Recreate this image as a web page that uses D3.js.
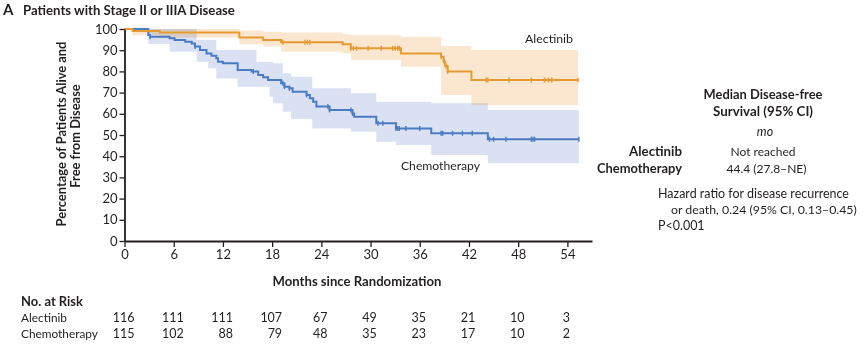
<!DOCTYPE html>
<html>
<head>
<meta charset="utf-8">
<script src="https://cdnjs.cloudflare.com/ajax/libs/d3/7.8.5/d3.min.js"></script>
<style>
  body { margin: 0; background: #fff; }
  svg { font-family: Lato, "Open Sans", sans-serif; }
</style>
</head>
<body>
<div id="km"></div>
<script>
// Kaplan-Meier steps (months, % alive and disease-free)
var alecTimes = [0, 1.0, 4.3, 14.0, 16.9, 19.1, 26.6, 27.6, 33.7, 38.6, 38.9, 39.1, 39.4, 42.3, 55.3]
var alecSurv  = [100, 99.0, 98.4, 96.0, 94.8, 93.8, 92.8, 90.9, 88.5, 86.9, 84.6, 82.5, 80.0, 75.9, 75.9]
var alecCensor = [19.3, 22.0, 22.3, 22.6, 27.6, 27.9, 28.3, 29.7, 31.3, 32.7, 33.0, 33.3, 33.5,
  38.6, 39.0, 39.2, 39.4, 44.1, 44.3, 46.9, 49.6, 51.2, 51.7, 52.1, 55.3]

var chemoTimes = [0, 2.9, 3.1, 5.5, 6.1, 7.4, 8.2, 8.6, 9.2, 10.0, 10.6, 11.2, 11.4, 12.0, 13.8, 15.5,
  16.3, 16.9, 17.5, 19.1, 19.5, 20.1, 20.5, 22.2, 22.6, 23.0, 23.4, 25.0, 27.8, 28.0, 30.7, 33.1,
  37.4, 44.3, 55.4]
var chemoSurv  = [100, 97.2, 96.4, 95.6, 94.8, 94.0, 93.2, 91.7, 90.1, 88.5, 87.4, 86.2, 84.6, 83.8, 80.7, 79.9,
  78.3, 77.2, 75.9, 74.4, 72.8, 72.0, 70.4, 68.9, 67.3, 65.7, 63.4, 61.8, 60.2, 58.6, 55.5, 53.1,
  50.8, 48.0, 48.0]
var chemoCensor = [3.1, 8.6, 15.7, 19.3, 19.5, 20.1, 22.2, 24.8, 25.0, 27.6, 27.8, 30.9, 31.5, 33.1, 33.3,
  33.5, 34.3, 36.0, 38.6, 38.8, 40.0, 41.2, 42.4, 44.5, 45.0, 46.5, 49.6, 49.8, 50.0, 55.4]

// 95% confidence bands (step functions)
var alecBandTimes = [0, 1.0, 4.3, 14.0, 16.9, 19.1, 26.6, 27.6, 33.7, 38.6, 42.3, 55.3]
var alecLower     = [100, 97.0, 96.0, 92.8, 91.7, 89.3, 88.5, 85.4, 82.2, 68.9, 64.2, 64.2]
var alecUpper     = [100, 100, 100, 99.3, 98.7, 98.3, 97.5, 97.0, 96.4, 92.0, 90.1, 90.1]

var chemoBandTimes = [0, 2.9, 5.5, 8.8, 10.2, 11.2, 13.8, 16.1, 17.7, 18.1, 19.3, 20.3, 22.9, 27.6, 30.7, 33.1, 37.4, 44.3, 55.4]
var chemoLower     = [100, 92.9, 89.3, 84.6, 81.5, 76.7, 72.8, 72.8, 68.1, 65.0, 61.0, 57.5, 53.1, 51.5, 46.8, 45.3, 40.6, 36.7, 36.7]
var chemoUpper     = [100, 100, 100, 94.8, 94.8, 90.1, 90.1, 84.6, 84.6, 83.8, 79.1, 77.5, 72.0, 69.7, 65.7, 65.7, 65.0, 61.8, 61.8]

var xTicks = [0, 6, 12, 18, 24, 30, 36, 42, 48, 54]
var yTicks = [0, 10, 20, 30, 40, 50, 60, 70, 80, 90, 100]

var riskGroups = ['Alectinib', 'Chemotherapy']
var alecRisk  = [116, 111, 111, 107, 67, 49, 35, 21, 10, 3]
var chemoRisk = [115, 102, 88, 79, 48, 35, 23, 17, 10, 2]

var orange = '#e69b30', orangeBand = '#fbe7cf'
var blue = '#4b7bc3', blueBand = '#d9e1f3'
var ink = '#231f20'

var W = 864, H = 349

var svg = d3.select('#km').append('svg')
  .attr('width', W)
  .attr('height', H)

var x = d3.scaleLinear().domain([0, 57]).range([124.5, 592])
var y = d3.scaleLinear().domain([0, 100]).range([241, 29])

function zip(ts, vs) { return ts.map(function(t, i) { return [t, vs[i]] }) }
function zipBand(ts, lo, hi) { return ts.map(function(t, i) { return {t: t, lo: lo[i], hi: hi[i]} }) }
function stepAt(ts, vs, t) {
  var v = vs[0]
  for (var i = 0; i < ts.length; i++) { if (ts[i] <= t) v = vs[i] }
  return v
}
// scale a label's font so it takes the same width as in the printed figure
function fit(t, w) {
  var fs = parseFloat(t.style('font-size'))
  var len = t.node().getComputedTextLength()
  if (len > 0) t.style('font-size', (fs * w / len).toFixed(2) + 'px')
  return t
}

var band = d3.area()
  .curve(d3.curveStepAfter)
  .x(function(d) { return x(d.t) })
  .y0(function(d) { return y(d.lo) })
  .y1(function(d) { return y(d.hi) })

var line = d3.line()
  .curve(d3.curveStepAfter)
  .x(function(d) { return x(d[0]) })
  .y(function(d) { return y(d[1]) })

var plot = svg.append('g')

plot.append('path')
  .attr('d', band(zipBand(chemoBandTimes, chemoLower, chemoUpper)))
  .style('fill', blueBand)
  .style('mix-blend-mode', 'multiply')

plot.append('path')
  .attr('d', band(zipBand(alecBandTimes, alecLower, alecUpper)))
  .style('fill', orangeBand)
  .style('mix-blend-mode', 'multiply')

var series = [
  {times: chemoTimes, surv: chemoSurv, censor: chemoCensor, color: blue},
  {times: alecTimes, surv: alecSurv, censor: alecCensor, color: orange}
]

series.forEach(function(s) {
  plot.append('path')
    .attr('d', line(zip(s.times, s.surv)))
    .style('fill', 'none')
    .style('stroke', s.color)
    .style('stroke-width', 2)

  plot.selectAll(null)
    .data(s.censor)
    .enter().append('line')
    .attr('x1', function(d) { return x(d) })
    .attr('x2', function(d) { return x(d) })
    .attr('y1', function(d) { return y(stepAt(s.times, s.surv, d)) - 2.5 })
    .attr('y2', function(d) { return y(stepAt(s.times, s.surv, d)) + 2.5 })
    .style('stroke', s.color)
    .style('stroke-width', 1.4)
})

// axes
var xAxis = svg.append('g')
  .attr('transform', 'translate(0,' + y(0) + ')')
  .call(d3.axisBottom(x).tickValues(xTicks).tickSize(6).tickSizeOuter(0).tickPadding(3))
var yAxis = svg.append('g')
  .attr('transform', 'translate(' + x(0) + ',0)')
  .call(d3.axisLeft(y).tickValues(yTicks).tickSize(5).tickSizeOuter(0).tickPadding(2))

;[xAxis, yAxis].forEach(function(a) {
  a.select('.domain').style('stroke', ink).style('stroke-width', 1.8)
  a.selectAll('.tick line').style('stroke', ink).style('stroke-width', 1.3)
  a.selectAll('.tick text').style('font-size', '13px').style('fill', ink)
    .style('font-family', 'Lato, sans-serif')
})

function label(px, py, txt, size, weight, anchor) {
  return svg.append('text')
    .attr('x', px).attr('y', py)
    .attr('text-anchor', anchor || 'start')
    .style('font-size', size + 'px')
    .style('font-weight', weight || 'normal')
    .style('fill', ink)
    .text(txt)
}

// title
label(3, 15, 'A', 15, 'bold')
fit(label(23, 15, 'Patients with Stage II or IIIA Disease', 13, 'bold'), 212)

// axis titles
fit(label(357, 286, 'Months since Randomization', 13, 'bold', 'middle'), 169)

var yl1 = label(0, 0, 'Percentage of Patients Alive and', 12.8, 'bold', 'middle')
  .attr('transform', 'translate(66,134) rotate(-90)')
fit(yl1, 185)
label(0, 0, 'Free from Disease', 12.8, 'bold', 'middle')
  .attr('transform', 'translate(80,136) rotate(-90)')
  .style('font-size', yl1.style('font-size'))

// curve labels
fit(label(525, 43, 'Alectinib', 13), 48)
fit(label(401, 169.5, 'Chemotherapy', 12.4), 79)

// median panel
fit(label(763, 99, 'Median Disease-free', 13, 'bold', 'middle'), 119)
fit(label(763, 116, 'Survival (95% CI)', 13, 'bold', 'middle'), 100)
label(765, 136, 'mo', 12.5, 'normal', 'middle').style('font-style', 'italic')
fit(label(682, 156, 'Alectinib', 13, 'bold', 'end'), 53)
fit(label(682, 173, 'Chemotherapy', 13, 'bold', 'end'), 85)
var ci = fit(label(766.5, 173, '44.4 (27.8\u2013NE)', 13, 'normal', 'middle'), 80)
label(763, 156, 'Not reached', 13, 'normal', 'middle').style('font-size', ci.style('font-size'))
var hr = fit(label(658, 198, 'Hazard ratio for disease recurrence', 13), 191)
fit(label(671, 214, 'or death, 0.24 (95% CI, 0.13\u20130.45)', 13), 186)
label(658, 230, 'P<0.001', 13).style('font-size', hr.style('font-size'))

// number at risk
fit(label(21, 306, 'No. at Risk', 13, 'bold'), 62)
var riskRows = [alecRisk, chemoRisk]
riskRows.forEach(function(row, r) {
  var yy = 322 + r * 16
  fit(label(21, yy, riskGroups[r], 12), r === 0 ? 46 : 77)
  svg.append('g').selectAll('text')
    .data(row)
    .enter().append('text')
    .attr('x', function(d, i) { return i < 4 ? x(xTicks[i]) + 10 : x(xTicks[i]) - 1 })
    .attr('y', yy)
    .attr('text-anchor', function(d, i) { return i < 4 ? 'end' : 'middle' })
    .style('font-size', '12.5px')
    .style('fill', ink)
    .text(function(d) { return d })
})
</script>
</body>
</html>
